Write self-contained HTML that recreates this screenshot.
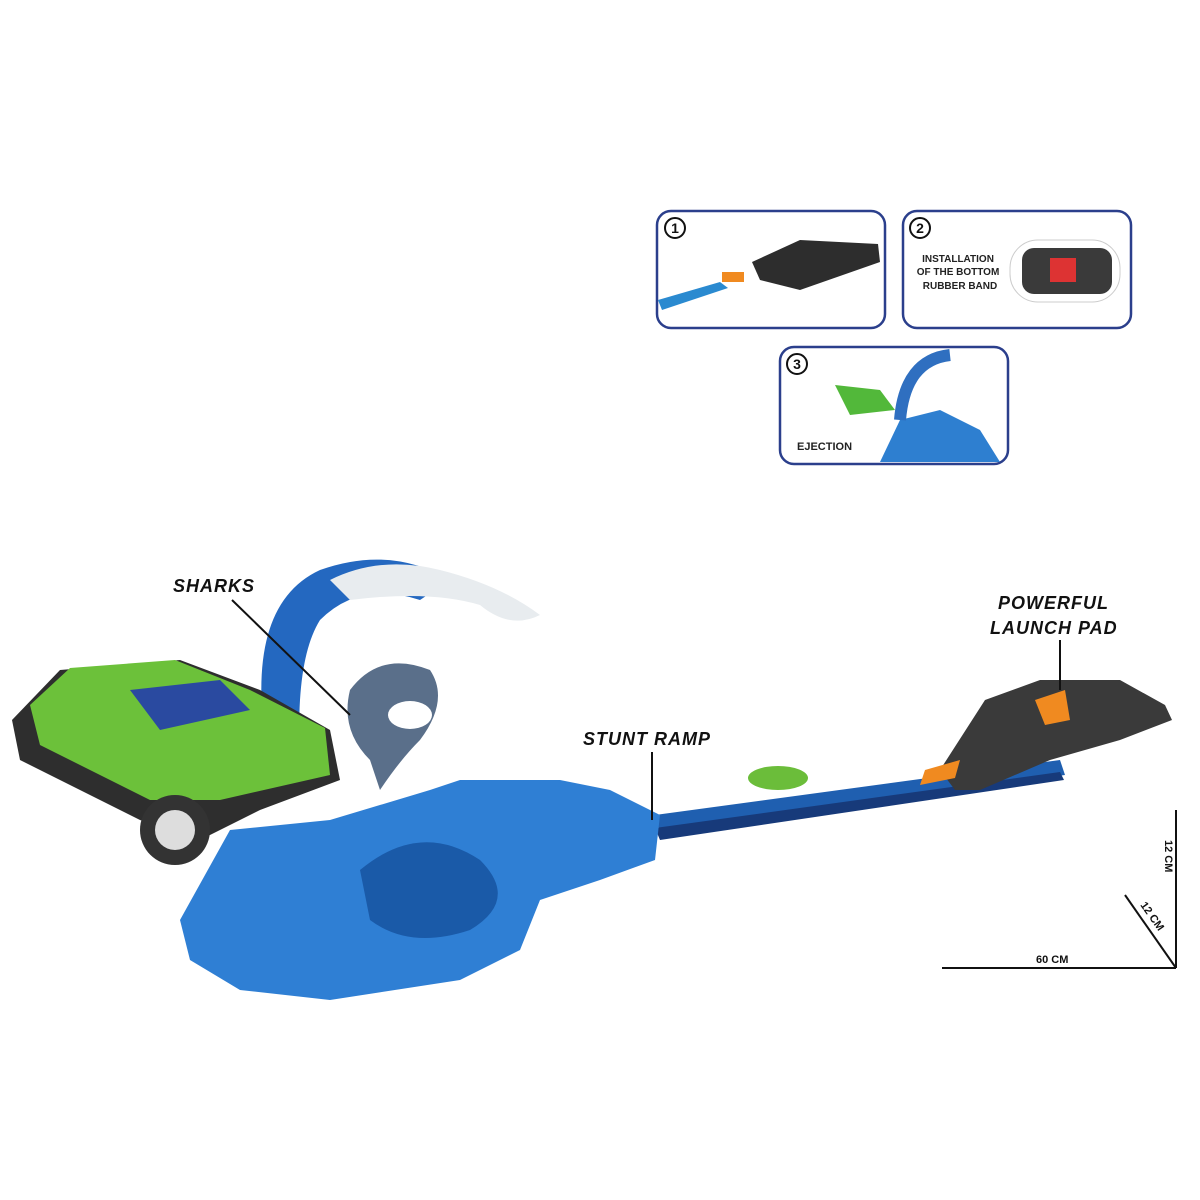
<!DOCTYPE html>
<html><head><meta charset="utf-8"><style>
html,body{margin:0;padding:0;background:#fff;}
svg{display:block;}
text{font-family:"Liberation Sans",Arial,sans-serif;}
</style></head><body>
<svg width="1200" height="1200" viewBox="0 0 1200 1200" xmlns="http://www.w3.org/2000/svg">
<defs><clipPath id="c3"><rect x="781" y="348" width="226" height="115" rx="13"/></clipPath></defs>
<rect width="1200" height="1200" fill="#fff"/>
<rect x="657" y="211" width="228" height="117" rx="14" fill="#fff" stroke="#2b3f8c" stroke-width="2.5"/>
<rect x="903" y="211" width="228" height="117" rx="14" fill="#fff" stroke="#2b3f8c" stroke-width="2.5"/>
<rect x="780" y="347" width="228" height="117" rx="14" fill="#fff" stroke="#2b3f8c" stroke-width="2.5"/>
<polygon points="658,300 720,282 728,288 662,310" fill="#2a8ad0"/>
<rect x="722" y="272" width="22" height="10" fill="#f08a20"/>
<polygon points="752,262 800,240 878,244 880,262 800,290 760,280" fill="#2d2d2d"/>
<g font-size="10" font-weight="bold" fill="#222" text-anchor="middle">
<text x="958" y="262">INSTALLATION</text><text x="958" y="275">OF THE BOTTOM</text><text x="960" y="289">RUBBER BAND</text></g>
<rect x="1010" y="240" width="110" height="62" rx="28" fill="#fff" stroke="#ccc"/>
<rect x="1022" y="248" width="90" height="46" rx="12" fill="#3a3a3a"/>
<rect x="1050" y="258" width="26" height="24" fill="#d33"/>
<g clip-path="url(#c3)">
<path d="M880,462 L900,420 L940,410 L980,430 L1000,462 Z" fill="#2e7fd0"/>
<path d="M900,420 Q905,360 950,355" fill="none" stroke="#2f6fc0" stroke-width="12"/>
<polygon points="835,385 880,390 895,410 850,415" fill="#52b83a"/>
</g>
<text x="797" y="450" font-size="11" font-weight="bold" fill="#222">EJECTION</text>
<g font-weight="bold" font-size="14" text-anchor="middle" fill="#111">
<circle cx="675" cy="228" r="10" fill="#fff" stroke="#111" stroke-width="2"/><text x="675" y="233">1</text>
<circle cx="920" cy="228" r="10" fill="#fff" stroke="#111" stroke-width="2"/><text x="920" y="233">2</text>
<circle cx="797" cy="364" r="10" fill="#fff" stroke="#111" stroke-width="2"/><text x="797" y="369">3</text>
</g>
<polygon points="655,815 1060,760 1065,775 660,832" fill="#1f5fb0"/>
<polygon points="655,828 1060,772 1064,780 660,840" fill="#173a7a"/>
<polygon points="940,770 985,700 1040,680 1120,680 1165,705 1172,720 1120,740 1050,760 980,790 955,790" fill="#3a3a3a"/>
<polygon points="1035,700 1065,690 1070,720 1045,725" fill="#f08a20"/>
<polygon points="925,770 960,760 955,778 920,785" fill="#f08a20"/>
<ellipse cx="778" cy="778" rx="30" ry="12" fill="#6bbd3a"/>
<path d="M180,920 L230,830 L330,820 L430,790 L460,780 L560,780 L610,790 L660,815 L655,860 L600,880 L540,900 L520,950 L460,980 L330,1000 L240,990 L190,960 Z" fill="#2f7fd4"/>
<path d="M360,870 Q420,820 480,860 Q520,900 470,930 Q410,950 370,920 Z" fill="#1a5aa8"/>
<path d="M262,710 Q255,600 320,570 Q390,545 450,580 L420,600 Q360,580 320,620 Q295,660 300,760 Z" fill="#2468c0"/>
<path d="M330,580 Q380,555 440,570 Q500,585 540,615 Q510,630 480,605 Q430,590 350,600 Z" fill="#e8ecef"/>
<path d="M350,690 Q380,650 430,670 Q450,700 420,740 Q400,760 380,790 L370,760 Q340,730 350,690 Z" fill="#5a6f8a"/>
<ellipse cx="410" cy="715" rx="22" ry="14" fill="#fff"/>
<path d="M12,720 L60,670 L180,660 L260,690 L330,730 L340,780 L260,810 L200,840 L140,820 L20,760 Z" fill="#2e2e2e"/>
<path d="M30,705 L70,668 L175,660 L250,690 L325,728 L330,775 L220,800 L150,800 L40,745 Z" fill="#6cc13a"/>
<circle cx="175" cy="830" r="35" fill="#333"/><circle cx="175" cy="830" r="20" fill="#ddd"/>
<polygon points="130,690 220,680 250,710 160,730" fill="#2a4aa0"/>
<g font-weight="bold" font-style="italic" fill="#111" font-size="18" letter-spacing="1">
<text x="173" y="592">SHARKS</text>
<text x="583" y="745">STUNT RAMP</text>
<text x="998" y="609">POWERFUL</text>
<text x="990" y="634">LAUNCH PAD</text>
</g>
<g stroke="#111" stroke-width="2" fill="none">
<line x1="232" y1="600" x2="350" y2="715"/>
<line x1="652" y1="752" x2="652" y2="820"/>
<line x1="1060" y1="640" x2="1060" y2="690"/>
<line x1="942" y1="968" x2="1176" y2="968"/>
<line x1="1176" y1="968" x2="1176" y2="810"/>
<line x1="1176" y1="968" x2="1125" y2="895"/>
</g>
<g font-weight="bold" font-size="11" fill="#111">
<text x="1036" y="963">60 CM</text>
<text transform="translate(1165,840) rotate(90)">12 CM</text>
<text transform="translate(1140,905) rotate(55)">12 CM</text>
</g>
</svg>
</body></html>
